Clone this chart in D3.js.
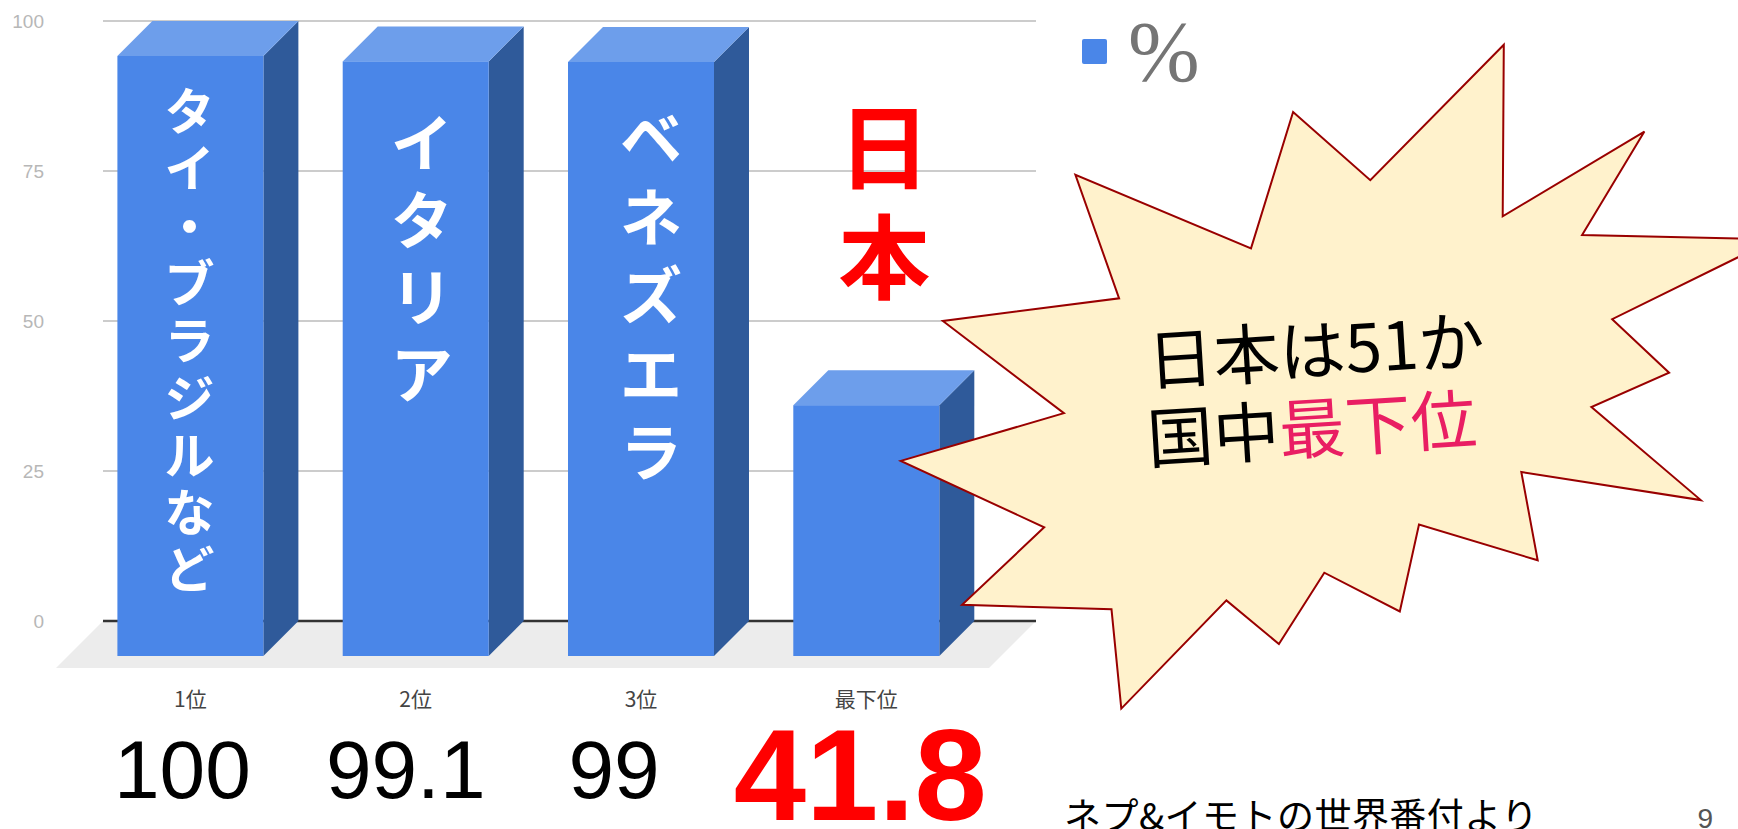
<!DOCTYPE html>
<html><head><meta charset="utf-8">
<script src="https://cdn.jsdelivr.net/npm/d3@7"></script>
<style>html,body{margin:0;padding:0;background:#fff;overflow:hidden}</style>
</head><body><svg id="c" width="1738" height="829"></svg>
<script>
// ---- data ----
const categories = ["1位", "2位", "3位", "最下位"];
const values = [100, 99.1, 99, 41.8];
const valueLabels = ["100", "99.1", "99", "41.8"];
const barLabels = ["タイ・ブラジルなど", "イタリア", "ベネズエラ", ""];
const yTicks = [0, 25, 50, 75, 100];
const legendLabel = "%";
const highlightLabel = "日本";
const calloutLine1 = [["日本は51か", "#000000"]];
const calloutLine2 = [["国中", "#000000"], ["最下位", "#e91e63"]];
const sourceText = "ネプ&イモトの世界番付より";
const pageNumber = "9";

// ---- layout ----
const W = 1738, H = 829;
const D = 35;                 // 3D depth offset
const gridX0 = 103, gridX1 = 1036;
const floorDepth = 47;
const cjk = "'Noto Sans CJK JP', 'Noto Sans CJK SC', sans-serif";
const sans = "'Liberation Sans', Arial, sans-serif";

const svg = d3.select("#c");
svg.append("rect").attr("width", W).attr("height", H).attr("fill", "#fff");

const y = d3.scaleLinear().domain([0, 100]).range([621, 21]);
const x = d3.scaleBand().domain(categories).range([77.75 + D, 978.95 + D])
  .paddingInner(0.352).paddingOuter(0.176);
const bw = x.bandwidth();
const frontCenter = c => x(c) - D + bw / 2;

// floor
const y0 = y(0);
svg.append("polygon")
  .attr("points", [[gridX0, y0], [gridX1, y0], [gridX1 - floorDepth, y0 + floorDepth], [gridX0 - floorDepth, y0 + floorDepth]].map(p => p.join(",")).join(" "))
  .attr("fill", "#ececec");

// gridlines
svg.append("g").selectAll("line").data(yTicks.filter(t => t > 0)).join("line")
  .attr("x1", gridX0).attr("x2", gridX1)
  .attr("y1", d => y(d)).attr("y2", d => y(d))
  .attr("stroke", "#cccccc").attr("stroke-width", 2);
svg.append("line").attr("x1", gridX0).attr("x2", gridX1).attr("y1", y0).attr("y2", y0)
  .attr("stroke", "#333").attr("stroke-width", 2.5);

// y axis labels
const yAxis = d3.axisLeft(y).tickValues(yTicks).tickSize(0).tickPadding(0);
const ga = svg.append("g").attr("transform", "translate(44,0)").call(yAxis);
ga.select(".domain").remove();
ga.selectAll("text").attr("font-family", sans).attr("font-size", 19).attr("fill", "#b7b7b7");

// bars
const data = categories.map((c, i) => ({ c, v: values[i], i }));
const gb = svg.append("g");
data.forEach(d => {
  const bx = x(d.c), yt = y(d.v);
  gb.append("polygon") // side
    .attr("points", [[bx + bw - D, yt + D], [bx + bw, yt], [bx + bw, y0], [bx + bw - D, y0 + D]].map(p => p.join(",")).join(" "))
    .attr("fill", "#2f5a9a");
  gb.append("polygon") // top
    .attr("points", [[bx - D, yt + D], [bx, yt], [bx + bw, yt], [bx + bw - D, yt + D]].map(p => p.join(",")).join(" "))
    .attr("fill", "#6d9eeb");
  gb.append("rect") // front
    .attr("x", bx - D).attr("y", yt + D).attr("width", bw).attr("height", y0 - yt)
    .attr("fill", "#4a86e8");
});

// vertical labels inside bars (one text element per bar, one tspan per character)
const vLayout = [
  { size: 50, start: 108, step: 57.3, dx: -1 },
  { size: 62, start: 140, step: 77, dx: 6 },
  { size: 62, start: 135, step: 78.5, dx: 10 },
  { size: 62, start: 0, step: 0, dx: 0 }
];
data.filter(d => barLabels[d.i]).forEach(d => {
  const L = vLayout[d.i];
  const t = svg.append("text")
    .attr("text-anchor", "middle").attr("dominant-baseline", "central")
    .attr("font-family", cjk).attr("font-weight", "bold").attr("font-size", L.size)
    .attr("fill", "#fff");
  t.selectAll("tspan").data(Array.from(barLabels[d.i])).join("tspan")
    .attr("x", frontCenter(d.c) + L.dx)
    .attr("y", (ch, k) => L.start + k * L.step)
    .text(ch => ch);
});

// 日本 highlight
const th = svg.append("text")
  .attr("text-anchor", "middle").attr("dominant-baseline", "central")
  .attr("font-family", cjk).attr("font-weight", "bold").attr("font-size", 92)
  .attr("fill", "#ff0000");
th.selectAll("tspan").data(Array.from(highlightLabel)).join("tspan")
  .attr("x", frontCenter(categories[3]) + 18)
  .attr("y", (ch, k) => 141 + k * 110)
  .text(ch => ch);

// category labels
svg.append("g").selectAll("text").data(categories).join("text")
  .attr("x", c => frontCenter(c)).attr("y", 707)
  .attr("text-anchor", "middle").attr("font-family", cjk).attr("font-size", 21)
  .attr("fill", "#444").text(c => c);

// big value labels
const valDx = [-8, -10, -27, -6];
svg.append("g").selectAll("text").data(data).join("text")
  .attr("x", d => frontCenter(d.c) + valDx[d.i])
  .attr("y", d => d.i === 3 ? 820 : 798)
  .attr("text-anchor", "middle").attr("font-family", sans)
  .attr("font-size", d => d.i === 3 ? 130 : 82)
  .attr("font-weight", d => d.i === 3 ? "bold" : "normal")
  .attr("fill", d => d.i === 3 ? "#ff0000" : "#000")
  .text(d => valueLabels[d.i]);

// legend
svg.append("rect").attr("x", 1082).attr("y", 39).attr("width", 25).attr("height", 25).attr("rx", 2)
  .attr("fill", "#4a86e8");
svg.append("text").attr("x", 1128).attr("y", 81).attr("font-family", "'Liberation Serif', 'DejaVu Serif', serif")
  .attr("font-size", 86).attr("fill", "#757575").text(legendLabel);

// callout star
const star = [
  [1503.8, 44.7], [1502.7, 216.3], [1644.4, 131.6], [1582.1, 235.0], [1800, 240], [1738, 257.3],
  [1612.2, 319.2], [1669.1, 372.7], [1591.4, 407.0], [1700.8, 500.1], [1521.3, 472.0],
  [1537.7, 560.3], [1419.0, 524.6], [1399.8, 611.5], [1324.3, 572.7], [1278.9, 644.0],
  [1226.4, 600.4], [1121.3, 708.6], [1111.5, 609.3], [962.1, 604.8], [1044.2, 527.3],
  [900.8, 460.9], [1063.9, 413.2], [942.9, 321.0], [1119.1, 298.3], [1075.4, 174.8],
  [1251.0, 248.3], [1293.1, 112.0], [1370.3, 180.2]
];
svg.append("polygon").attr("points", star.map(p => p.join(",")).join(" "))
  .attr("fill", "#fff2cc").attr("stroke", "#990000").attr("stroke-width", 2).attr("stroke-linejoin", "miter");

const gc = svg.append("g").attr("transform", "translate(1149,385) rotate(-3.5)");
const tc = gc.append("text").attr("font-family", cjk).attr("font-size", 66);
[calloutLine1, calloutLine2].forEach((line, li) => {
  line.forEach((seg, si) => {
    const ts = tc.append("tspan").attr("fill", seg[1]).text(seg[0]);
    if (si === 0) ts.attr("x", li === 0 ? 0 : -5).attr("y", li * 78);
  });
});

// footer
svg.append("text").attr("x", 1064).attr("y", 830).attr("font-family", cjk).attr("font-size", 37)
  .attr("fill", "#000").attr("textLength", 474).attr("lengthAdjust", "spacing").text(sourceText);
svg.append("text").attr("x", 1713).attr("y", 828).attr("text-anchor", "end").attr("font-family", sans)
  .attr("font-size", 28).attr("fill", "#555").text(pageNumber);
</script>
</body></html>
